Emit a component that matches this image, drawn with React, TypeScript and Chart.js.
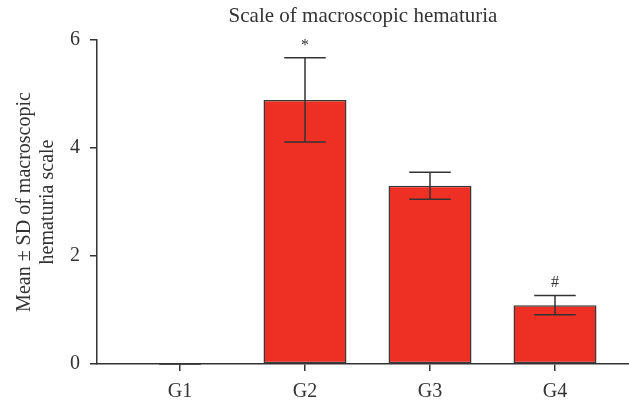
import React, { useEffect, useRef } from "react";
import { Chart, registerables } from "chart.js";

Chart.register(...registerables);

const titleText = "Scale of macroscopic hematuria";
const yTitle = ["Mean ± SD of macroscopic", "hematuria scale"];
const groups = ["G1", "G2", "G3", "G4"];
const means = [0, 4.89, 3.3, 1.09];
const sds = [0, 0.78, 0.25, 0.18];
const marks = ["", "*", "", "#"];
const yTicks = [0, 2, 4, 6];

const INK = "#333333";
const FONT = "'Liberation Serif', 'DejaVu Serif', serif";

const errorBarPlugin = {
  id: "errorBars",
  afterDatasetsDraw(chart: any) {
    const { ctx } = chart;
    const yScale = chart.scales.y;
    const meta = chart.getDatasetMeta(0);
    ctx.save();
    ctx.strokeStyle = INK;
    ctx.lineWidth = 1.5;
    meta.data.forEach((el: any, i: number) => {
      const x = el.x;
      const half = el.width / 4;
      const yTop = yScale.getPixelForValue(means[i] + sds[i]);
      const yBot = yScale.getPixelForValue(Math.max(0, means[i] - sds[i]));
      ctx.beginPath();
      ctx.moveTo(x, yTop);
      ctx.lineTo(x, yBot);
      ctx.moveTo(x - half, yTop);
      ctx.lineTo(x + half, yTop);
      ctx.moveTo(x - half, yBot);
      ctx.lineTo(x + half, yBot);
      ctx.stroke();
      if (marks[i]) {
        ctx.fillStyle = INK;
        ctx.font = `16px ${FONT}`;
        ctx.textAlign = "center";
        ctx.textBaseline = "alphabetic";
        ctx.fillText(marks[i], x, yTop - 8);
      }
    });
    ctx.restore();
  },
};

export default function App() {
  const ref = useRef<HTMLCanvasElement | null>(null);
  useEffect(() => {
    if (!ref.current) return;
    const chart = new Chart(ref.current, {
      type: "bar",
      data: {
        datasets: [
          {
            data: groups.map((_, i) => ({ x: i, y: means[i] })),
            backgroundColor: "#EE3024",
            borderColor: "#3a3a3a",
            borderWidth: 1.5,
            borderSkipped: false,
            barPercentage: 0.664,
            categoryPercentage: 1,
          },
        ],
      },
      options: {
        responsive: false,
        animation: false,
        layout: { padding: { left: 0, right: 0, top: 0, bottom: 0 } },
        plugins: {
          legend: { display: false },
          tooltip: { enabled: false },
          title: {
            display: true,
            text: titleText,
            color: INK,
            fullSize: false,
            font: { family: FONT, size: 21, weight: "normal" },
            padding: { top: 4, bottom: 10.8 },
          },
        },
        scales: {
          x: {
            type: "linear",
            offset: false,
            min: -0.664,
            max: 3.592,
            afterBuildTicks: (scale: any) => {
              scale.ticks = groups.map((_, i) => ({ value: i }));
            },
            afterFit: (scale: any) => {
              scale.height = 40;
            },
            ticks: {
              callback: (v: any) => groups[v] ?? "",
              color: INK,
              font: { family: FONT, size: 20 },
              padding: 9,
              maxRotation: 0,
            },
            grid: {
              display: true,
              offset: false,
              drawOnChartArea: false,
              drawTicks: true,
              tickLength: 7,
              color: INK,
              lineWidth: 1.5,
            },
            border: { display: true, color: INK, width: 1.5 },
          },
          y: {
            min: 0,
            max: 6,
            afterBuildTicks: (scale: any) => {
              scale.ticks = yTicks.map((v) => ({ value: v }));
            },
            afterFit: (scale: any) => {
              scale.width = 97;
            },
            ticks: {
              color: INK,
              font: { family: FONT, size: 20 },
              padding: 10,
            },
            grid: {
              display: true,
              drawOnChartArea: false,
              drawTicks: true,
              tickLength: 7,
              color: INK,
              lineWidth: 1.5,
            },
            border: { display: true, color: INK, width: 1.5 },
            title: {
              display: true,
              text: yTitle,
              color: INK,
              font: { family: FONT, size: 20, lineHeight: 1.15 },
              padding: { top: 13, bottom: 0 },
            },
          },
        },
      },
      plugins: [errorBarPlugin],
    } as any);
    return () => chart.destroy();
  }, []);
  return (
    <div style={{ position: "absolute", left: 0, top: 0, width: 629, height: 404, background: "#fff" }}>
      <canvas ref={ref} width={629} height={404} style={{ display: "block" }} />
    </div>
  );
}
